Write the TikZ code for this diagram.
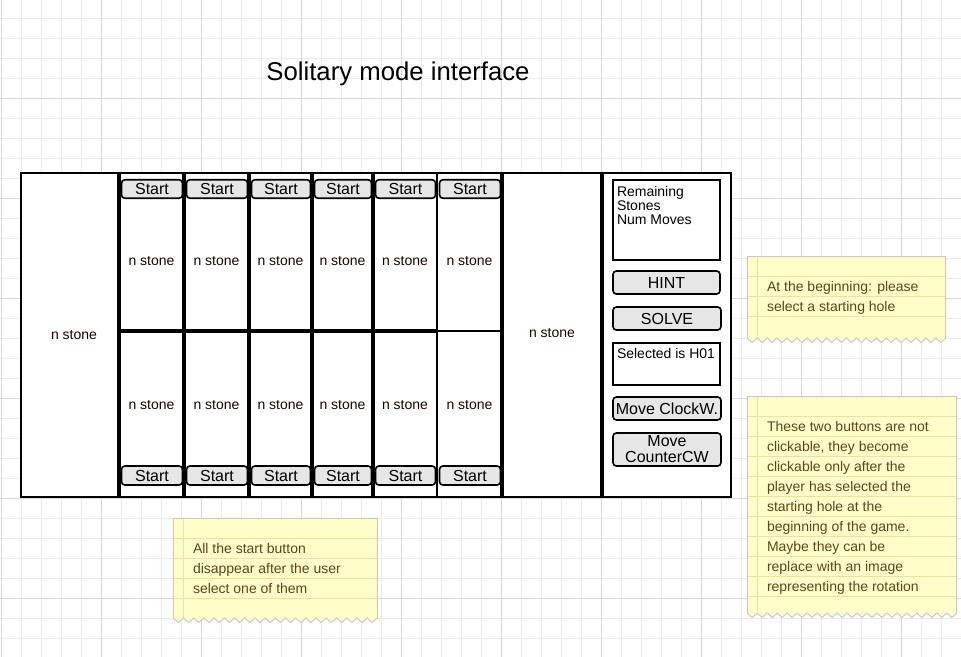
\documentclass[tikz,border=0pt]{standalone}
\usepackage{fontspec}
\setmainfont{Liberation Sans}
\newlength{\pxl}\setlength{\pxl}{0.75pt}
\definecolor{gridminor}{HTML}{EBEBEB}
\definecolor{gridmajor}{HTML}{D8D8D8}
\definecolor{btnfill}{HTML}{E6E6E6}
\definecolor{notefill}{HTML}{FFFDC8}
\definecolor{noteline}{HTML}{EAE3A8}
\definecolor{notebord}{HTML}{CACACA}
\definecolor{notetext}{HTML}{5A4818}
\definecolor{stonetext}{HTML}{1A0505}
\newcommand{\stickynote}[5]{%
  \pgfmathsetmacro{\nwid}{#3-#1}%
  \pgfmathtruncatemacro{\nteeth}{round(\nwid/10)}%
  \pgfmathsetmacro{\twid}{\nwid/\nteeth}%
  \filldraw[fill=notefill, draw=notebord, line width=0.75pt] (#1,#2) -- (#3,#2) -- (#3,#4)
     \foreach \k in {1,...,\nteeth} { -- ({#3-(\k-0.5)*\twid},{#4+4.5}) -- ({#3-\k*\twid},#4) } -- cycle;
  \foreach \k in {1,...,#5} \draw[noteline, line width=0.75pt] ({#1+0.5},{#2+20*\k}) -- ({#3-0.5},{#2+20*\k});
  \draw[noteline, line width=0.75pt] ({#1+10},{#2+0.5}) -- ({#1+10},#4);
}
\begin{document}
\begin{tikzpicture}[x=0.75pt,y=-0.75pt,
  every node/.style={inner sep=0pt, outer sep=0pt},
  sep/.style={line width=3pt},
  thinsep/.style={line width=1.2pt},
  btn/.style={draw=black, fill=btnfill, rounded corners=2.5pt, line width=1.2pt, font=\fontsize{12}{12}\selectfont, align=center},
  infobox/.style={draw=black, fill=white, line width=1.3pt},
  stonelbl/.style={font=\fontsize{10.5}{12}\selectfont, text=stonetext},
  infotext/.style={font=\fontsize{10.5}{10.5}\selectfont, align=left, anchor=west},
  notetxt/.style={font=\fontsize{10.5}{15}\selectfont, text=notetext, align=left, anchor=west}
]
\useasboundingbox (0,0) rectangle (961,657);
\fill[white] (0,0) rectangle (961,657);
% grid
\foreach \x in {1,21,...,961} \draw[gridminor, line width=0.75pt] (\x,0) -- (\x,657);
\foreach \y in {18.4,38.4,...,650} \draw[gridminor, line width=0.75pt] (0,\y) -- (961,\y);
\foreach \x in {1,101,...,901} \draw[gridmajor, line width=0.75pt] (\x,0) -- (\x,657);
\foreach \y in {98.4,198.4,...,600} \draw[gridmajor, line width=0.75pt] (0,\y) -- (961,\y);

% title
\node[font=\fontsize{19.3}{19.3}\selectfont] (title) at (398,74) {Solitary mode interface};

% board
\node[draw=black, fill=white, line width=1.6pt, minimum width={710*\pxl}, minimum height={324*\pxl}] (board) at (376,335) {};
\foreach \x in {119,184,249,312,373,602} \draw[sep] (\x,173) -- (\x,497);
\draw[thinsep] (437,173) -- (437,497);
\draw[line width=2.4pt] (502,173) -- (502,497);
\draw[sep] (119,331) -- (437,331);
\draw[thinsep] (437,331) -- (502,331);

% stores
\node[stonelbl] (storeL) at (74,335) {n stone};
\node[stonelbl] (storeR) at (552,333) {n stone};

% pits
\foreach \a/\b [count=\i] in {119/184,184/249,249/312,312/373,373/437,437/502} {
  \node[stonelbl] (u\i) at ({(\a+\b)/2},261) {n stone};
  \node[stonelbl] (l\i) at ({(\a+\b)/2},405) {n stone};
  \node[btn, minimum width={(\b-\a-4)*\pxl}, minimum height={18.5*\pxl}] (su\i) at ({(\a+\b)/2+0.5},189) {Start};
  \node[btn, minimum width={(\b-\a-4)*\pxl}, minimum height={19*\pxl}] (sl\i) at ({(\a+\b)/2+0.5},475.5) {Start};
}

% control panel
\node[infobox, minimum width={107*\pxl}, minimum height={80*\pxl}] (info) at (666.5,220) {};
\node[infotext] (infot) at (617,205) {Remaining\\Stones\\Num Moves};
\node[btn, minimum width={107*\pxl}, minimum height={23*\pxl}] (hint) at (666.5,282.5) {HINT};
\node[btn, minimum width={108*\pxl}, minimum height={23*\pxl}] (solve) at (667,318.5) {SOLVE};
\node[infobox, minimum width={107*\pxl}, minimum height={42*\pxl}] (sel) at (666.5,364) {};
\node[infotext] (selt) at (617,353) {Selected is H01};
\node[btn, minimum width={108*\pxl}, minimum height={23*\pxl}] (mcw) at (667,408.5) {Move ClockW.};
\node[btn, minimum width={108*\pxl}, minimum height={33*\pxl}] (mccw) at (667,449.5) {Move\\CounterCW};

% notes
\stickynote{747.3}{256.7}{945.7}{338}{3}
\node[notetxt] (note1) at (767,298) {At the beginning: please\\select a starting hole};
\stickynote{747.3}{396.7}{956.7}{613}{10}
\node[notetxt] (note2) at (767,508) {These two buttons are not\\clickable, they become\\clickable only after the\\player has selected the\\starting hole at the\\beginning of the game.\\Maybe they can be\\replace with an image\\representing the rotation};
\stickynote{173.3}{518.3}{377.3}{618}{4}
\node[notetxt] (note3) at (193,568) {All the start button\\disappear after the user\\select one of them};
\end{tikzpicture}
\end{document}
